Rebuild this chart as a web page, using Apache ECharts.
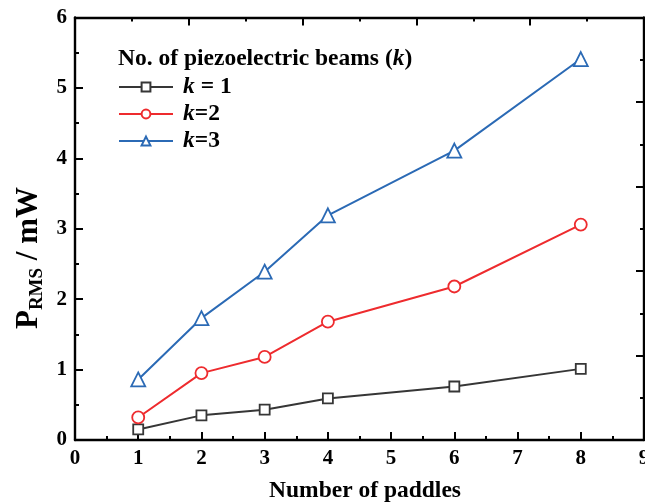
<!DOCTYPE html>
<html>
<head>
<meta charset="utf-8">
<script src="https://cdn.jsdelivr.net/npm/echarts@6/dist/echarts.min.js"></script>
<style>
html,body{margin:0;padding:0;background:#fff;}
#chart{width:645px;height:504px;}
</style>
</head>
<body>
<div id="chart"></div>
<script>
const paddles = [1, 2, 3, 4, 6, 8];
const k1 = [0.15, 0.35, 0.43, 0.59, 0.76, 1.01];
const k2 = [0.32, 0.95, 1.18, 1.68, 2.18, 3.06];
const k3 = [0.86, 1.73, 2.39, 3.19, 4.11, 5.41];
const seriesNames = ['k = 1', 'k=2', 'k=3'];
const xTicks = ['0','1','2','3','4','5','6','7','8','9'];

const FONT = '"Liberation Serif", "Times New Roman", serif';
const colors = ['#363636', '#ee2b2e', '#2b6ab5'];
const symbols = ['rect', 'circle', 'triangle'];
const sizes = [10, 12, 14];
const allData = [k1, k2, k3];

const chart = echarts.init(document.getElementById('chart'), null, {renderer: 'canvas'});

function axisCommon() {
  return {
    axisLine: {show: true, onZero: false, lineStyle: {color: '#000', width: 2.4}},
    axisTick: {show: true, inside: true, length: 8, lineStyle: {color: '#000', width: 2}},
    minorTick: {show: true, splitNumber: 2, length: 4, lineStyle: {color: '#000', width: 2}},
    splitLine: {show: false},
    minorSplitLine: {show: false}
  };
}

chart.setOption({
  animation: false,
  backgroundColor: '#fff',
  grid: {left: 75, right: 1, top: 17.5, bottom: 64, containLabel: false, outerBoundsMode: 'none'},
  xAxis: [
    Object.assign({
      type: 'value', min: 0, max: 9, interval: 1, position: 'bottom',
      axisLabel: {color: '#000', fontFamily: FONT, fontWeight: 'bold', fontSize: 21, margin: 8,
        hideOverlap: false, formatter: v => xTicks[v]}
    }, axisCommon()),
    Object.assign({
      type: 'value', min: 0, max: 10, interval: 2, position: 'top',
      axisLabel: {show: false}
    }, axisCommon())
  ],
  yAxis: [
    Object.assign({
      type: 'value', min: 0, max: 6, interval: 1, position: 'left',
      axisLabel: {color: '#000', fontFamily: FONT, fontWeight: 'bold', fontSize: 21, margin: 8}
    }, axisCommon()),
    Object.assign({
      type: 'value', min: 0, max: 10, interval: 2, position: 'right',
      axisLabel: {show: false}
    }, axisCommon())
  ],
  title: {
    left: 118, top: 47, padding: 0,
    text: 'No. of piezoelectric beams ({i|k})',
    textStyle: {
      fontFamily: FONT, fontWeight: 'bold', fontSize: 23.5, color: '#000', lineHeight: 24,
      rich: {i: {fontFamily: FONT, fontWeight: 'bold', fontStyle: 'italic', fontSize: 23.5, color: '#000', lineHeight: 24}}
    }
  },
  legend: {
    orient: 'vertical', left: 118, top: 75, padding: 0,
    itemWidth: 54, itemHeight: 11, itemGap: 3,
    data: seriesNames,
    formatter: name => '{i|k}{b|' + name.slice(1) + '}',
    textStyle: {
      fontFamily: FONT, fontWeight: 'bold', fontSize: 23.5, color: '#000', lineHeight: 24, padding: [0,0,0,5],
      rich: {
        i: {fontFamily: FONT, fontWeight: 'bold', fontStyle: 'italic', fontSize: 23.5, color: '#000', lineHeight: 24},
        b: {fontFamily: FONT, fontWeight: 'bold', fontSize: 23.5, color: '#000', lineHeight: 24}
      }
    }
  },
  graphic: [
    {
      type: 'text', x: 365, y: 491,
      style: {text: 'Number of paddles', fontFamily: FONT, fontWeight: 'bold', fontSize: 23.5,
        fill: '#000', align: 'center', verticalAlign: 'middle'}
    },
    {
      type: 'text', x: 29, y: 258, rotation: Math.PI / 2,
      style: {
        text: '{a|P}{s|RMS}{a| / mW}', align: 'center', verticalAlign: 'middle',
        rich: {
          a: {fontFamily: FONT, fontWeight: 'bold', fontSize: 31, fill: '#000', lineHeight: 36, verticalAlign: 'middle'},
          s: {fontFamily: FONT, fontWeight: 'bold', fontSize: 19, fill: '#000', lineHeight: 20, verticalAlign: 'bottom'}
        }
      }
    }
  ],
  series: seriesNames.map((name, i) => ({
    name: name, type: 'line', xAxisIndex: 0, yAxisIndex: 0,
    data: paddles.map((p, j) => [p, allData[i][j]]),
    symbol: symbols[i], symbolSize: sizes[i],
    showAllSymbol: true,
    lineStyle: {color: colors[i], width: 2},
    itemStyle: {color: '#fff', borderColor: colors[i], borderWidth: 1.8},
    color: colors[i],
    z: 3
  }))
});
</script>
</body>
</html>
